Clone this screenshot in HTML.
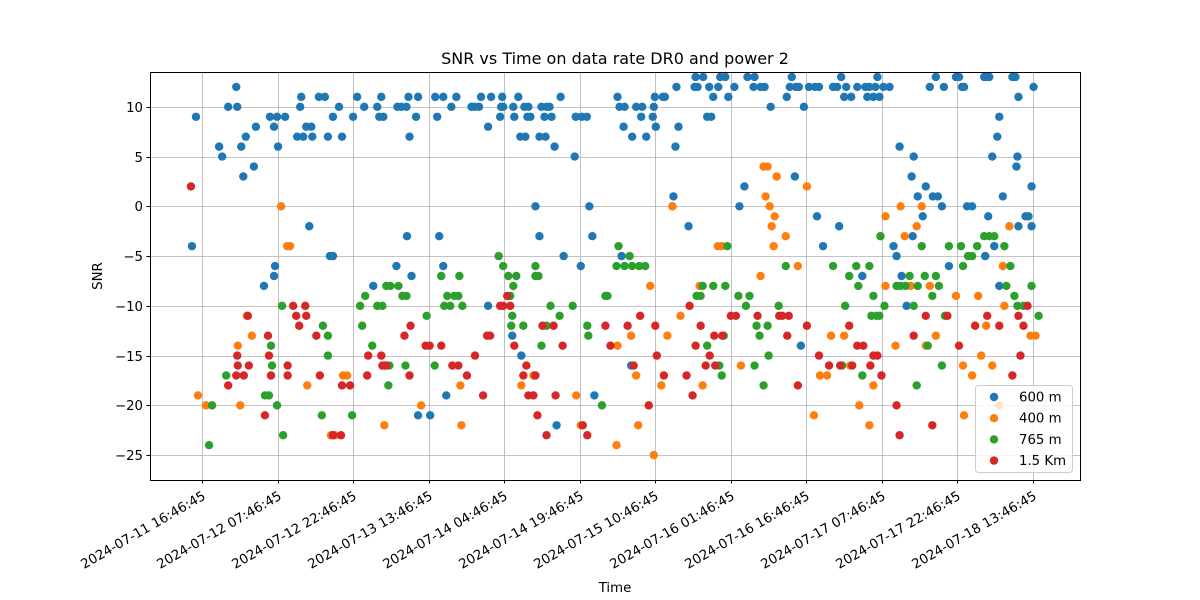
<!DOCTYPE html>
<html><head><meta charset="utf-8"><style>
body{margin:0;background:#fff;}
svg{display:block;font-family:"DejaVu Sans","Liberation Sans",sans-serif;}
</style></head><body>
<svg id="chart" width="1200" height="600" viewBox="0 0 1200 600">
<rect x="0" y="0" width="1200" height="600" fill="#fff"/>
<g id="grid"></g>
<g id="marks"></g>
<rect x="150.5" y="72.5" width="930" height="408" fill="none" stroke="#000" stroke-width="1"/>
<g id="axes"></g>
<text x="615" y="64" font-size="16" text-anchor="middle">SNR vs Time on data rate DR0 and power 2</text>
<text x="615" y="592" font-size="13.3" text-anchor="middle">Time</text>
<text x="102" y="276" font-size="13.3" text-anchor="middle" transform="rotate(-90 102 276)">SNR</text>
<g id="legend"></g>
</svg>
<script>
// hours since 2024-07-11 16:46:45, SNR values
const xTickLabels=["2024-07-11 16:46:45","2024-07-12 07:46:45","2024-07-12 22:46:45","2024-07-13 13:46:45","2024-07-14 04:46:45","2024-07-14 19:46:45","2024-07-15 10:46:45","2024-07-16 01:46:45","2024-07-16 16:46:45","2024-07-17 07:46:45","2024-07-17 22:46:45","2024-07-18 13:46:45"];
const xTickHours=[0,15,30,45,60,75,90,105,120,135,150,165];
const yTicks=[-25,-20,-15,-10,-5,0,5,10];
const seriesNames=["600 m","400 m","765 m","1.5 Km"];
const seriesColors=["#1f77b4","#ff7f0e","#2ca02c","#d62728"];
const s600T=[-2,-1.2,3.4,4,5.2,6.8,7,7.8,8.2,8.7,10.3,10.7,12.3,13.5,14.3,14.3,14.5,14.9,15.1,16.5,18.9,19.5,19.7,20.1,20.7,21.3,21.7,21.9,23.2,24.4,25,25.4,26,26,27.2,27.8,30,30.8,32.2,34,34.8,35.2,35.6,36,38.6,38.8,39.6,40.6,40.7,41,41.2,41.6,42.5,42.9,42.9,45.3,46.3,46.7,47.1,47.9,47.9,48.5,49.5,50.5,53.5,54.1,55,55.4,56.8,56.8,57.4,59.2,59.4,59.6,59.8,61.6,61.8,62,62.8,63.2,63.4,64,64.2,64.6,64.8,65.2,66.2,67,67,67.4,68,68.2,68.4,69,69.4,70,70.4,71.2,71.8,74,74.2,75.2,75.4,76.4,76.9,77.5,77.9,82.5,82.9,83.3,83.7,83.9,85.2,85.4,86.2,87.2,87.4,88.2,89.5,89.7,89.9,90.1,91.5,91.9,93.4,93.6,94,94.2,94.6,96.6,97.8,98,98.4,99.5,100.3,100.7,101.1,101.5,102.5,102.9,103.9,104.5,105.7,106.7,107.7,108.3,109.5,109.7,110.9,111.7,112.9,116.1,116.7,117.1,117.7,117.9,118.5,118.9,119.5,120.5,121.7,122.1,122.5,123.3,125.3,126.1,126.5,126.9,127.5,127.9,128.9,130.1,131.1,131.7,132.1,132.5,133.3,133.7,134.1,134.5,135.3,136.5,137.3,137.9,138.5,138.9,139.9,140.9,141.1,141.3,142.1,143.1,143.7,144.5,145.1,145.7,146.1,146.9,147.3,148.3,149.7,150.3,150.9,151.3,151.9,152.9,155.3,155.5,155.7,156.1,156.3,156.9,157.3,157.9,158.3,158.3,159,160.9,161.5,161.7,161.9,162.1,162.1,163.5,164.1,164.7,164.7,165.1];
const s600V=[-4,9,6,5,10,12,10,6,3,7,4,8,-8,9,8,-7,-6,9,6,9,7,10,11,7,8,-2,8,7,11,11,7,-5,-5,9,10,7,9,11,10,-8,10,9,11,9,-6,10,10,10,-3,11,7,-7,9,11,-21,-21,11,9,-3,11,-6,-19,10,11,10,10,10,11,8,-10,11,9,10,11,10,-13,10,9,11,7,-15,10,7,9,10,9,0,-3,7,10,9,7,10,10,9,6,-22,11,-5,5,9,-6,9,9,0,-3,-19,11,10,-5,8,10,-16,7,10,9,10,7,9,10,11,8,11,11,0,1,6,12,8,-2,12,13,12,13,9,12,9,11,12,13,13,11,12,0,2,13,12,13,12,12,10,11,12,13,3,12,12,-14,10,12,12,-1,12,-4,12,12,-2,13,11,12,11,12,-7,12,11,12,11,12,13,11,12,12,-4,-5,6,-7,-10,3,-3,5,1,-1,2,12,1,13,1,0,12,-6,13,13,12,12,0,0,13,-5,13,-1,13,5,-4,7,9,-8,1,13,13,4,5,11,-2,-1,-1,2,-2,12];
const s400T=[-0.8,0.8,7.1,7.6,8.9,9.9,15.7,16.9,17.5,20.9,25.6,26.4,28,28.8,36.2,43.5,51.3,51.5,63.4,65.8,74.3,75.2,82.3,82.5,85.2,86.2,86.6,89,89.7,91.2,92.4,93.4,95,98.8,99.4,102.4,103.2,107,110.9,111.5,111.9,112.3,112.7,113.1,113.5,113.7,114.1,115.9,118.3,120.1,121.5,122.7,124.1,124.9,127.5,128.7,130.5,132.5,133.3,134.7,135.7,135.7,137.7,138.7,139.5,140.7,141.9,142.9,143.7,144.5,145.7,149.7,151.1,151.3,152.9,154.1,154.7,155.7,156.9,158.3,159,159.3,160.3,164.5,165.5];
const s400V=[-19,-20,-14,-20,-11,-13,0,-4,-4,-18,-23,-23,-17,-17,-22,-20,-18,-22,-18,-17,-19,-22,-24,-14,-13,-17,-22,-8,-25,-18,-13,0,-11,-8,-18,-4,-4,-16,-7,4,1,4,0,-2,-4,-1,3,-3,-6,2,-21,-17,-17,-13,-13,-16,-20,-22,-18,-3,-1,-8,-14,0,-3,-8,-2,0,-14,-8,-13,-9,-16,-21,-17,-9,-15,-12,-16,-20,-6,-10,-2,-13,-13];
const s765T=[1.4,2,4.8,12.5,13.3,13.7,13.9,14.9,15.9,16.1,24,23.8,25,25,29.8,31.4,31.8,32.4,33.8,34.8,35.8,36.6,37,37.2,37.4,39,39.8,40.6,40.4,44.6,46.2,47.5,48.1,48.7,49.3,50.1,50.9,51.1,51.7,58.9,59.8,60.8,61.2,61.4,61.6,61.8,62.4,63.8,66.2,66.2,66.8,67.4,68.4,69.2,71,73.6,76.5,76.7,79.4,80.1,80.5,82.3,82.7,83.9,84.9,85.4,86.8,88,98.2,99,100.3,99.4,101.5,102.7,103.2,103.6,103.9,104.3,106.5,108,108.7,109.7,110.1,110.7,111.5,112.3,112.5,114.5,115.9,125.3,127.1,127.7,128.5,129.9,130.3,131.1,132.5,132.9,133.3,133.9,134.5,134.7,135.5,137.9,138.7,139.7,140.5,141.3,141.9,142.1,142.9,143.5,144.1,145,145.7,146.3,146.9,147.5,148.3,150.7,151.1,152.1,152.9,153.9,155.3,156.3,157.3,159.3,159.7,160.5,161.3,161.9,163.1,164.7,166.1];
const s765V=[-24,-20,-17,-19,-19,-14,-16,-20,-10,-23,-12,-21,-15,-13,-21,-10,-12,-9,-14,-10,-10,-8,-18,-16,-8,-8,-9,-9,-16,-11,-16,-7,-10,-9,-10,-9,-9,-7,-10,-5,-6,-7,-9,-12,-11,-8,-7,-12,-7,-6,-7,-14,-12,-10,-11,-10,-12,-13,-20,-9,-9,-6,-4,-6,-5,-6,-6,-6,-9,-9,-14,-8,-8,-16,-17,-13,-8,-4,-9,-10,-9,-16,-12,-13,-18,-12,-15,-10,-6,-6,-16,-10,-7,-6,-8,-17,-6,-11,-9,-11,-11,-3,-10,-8,-8,-8,-7,-10,-18,-8,-4,-7,-14,-9,-7,-8,-16,-11,-4,-4,-6,-5,-5,-4,-3,-3,-3,-4,-8,-6,-9,-10,-10,-8,-11];
const s15T=[-2.2,5.2,6.8,7,7.1,8.3,9.1,9.3,12.5,13.1,13.3,13.7,17,17,18.1,18.7,19.3,20.5,20.7,22.7,23.4,26,27.6,27.8,29.4,32.8,33,35.6,35.8,36.2,36.6,40.2,41.4,41.2,44.4,45.2,47.5,49.7,50.9,52.6,54.2,55.8,56.6,57.2,59.2,59.8,60.6,61.2,62,63.8,64.4,64.8,65.8,66.2,66.6,67.6,68.4,69.8,70.2,71.6,75.6,76.5,80.1,81.1,84.5,85.7,87,88.7,90,90.3,91.7,96.2,96.8,97.4,98,99,100,100.8,101.7,101.9,103.3,105,106,110.3,114.6,115.2,116.2,116.5,118.3,120.1,122.5,124.5,126.7,128.5,129.1,130.1,131.3,132.7,133.3,134.1,134.9,137.9,138.5,141.3,143.7,145,148,150.3,153.5,155.9,158.3,160.9,162.1,162.5,163.1,163.9];
const s15V=[2,-18,-17,-15,-16,-17,-11,-16,-21,-13,-15,-17,-17,-16,-10,-11,-12,-10,-11,-13,-17,-23,-23,-18,-18,-17,-15,-15,-16,-16,-16,-13,-12,-17,-14,-14,-14,-16,-16,-17,-15,-19,-13,-13,-10,-10,-9,-10,-14,-17,-16,-19,-19,-17,-21,-12,-23,-12,-19,-14,-22,-23,-12,-14,-12,-16,-11,-20,-12,-15,-17,-17,-10,-19,-14,-12,-16,-15,-13,-16,-13,-11,-11,-11,-11,-11,-13,-11,-18,-12,-15,-16,-16,-12,-16,-14,-14,-16,-15,-15,-17,-20,-23,-13,-11,-22,-11,-14,-12,-11,-12,-17,-11,-15,-12,-10];
const seriesT=[s600T,s400T,s765T,s15T];
const seriesV=[s600V,s400V,s765V,s15V];

const NS="http://www.w3.org/2000/svg";
const L=150,R=1080,T=72,B=480;
const X0=202, PXH=75.55/15;
function xs(h){return X0+h*PXH;}
const YMIN=-27.5,YMAX=13.5;
function ys(v){return B-(v-YMIN)/(YMAX-YMIN)*(B-T);}
function mk(tag,attrs,parent){const e=document.createElementNS(NS,tag);for(const k in attrs)e.setAttribute(k,attrs[k]);parent.appendChild(e);return e;}
const grid=document.getElementById('grid'),axes=document.getElementById('axes'),marks=document.getElementById('marks'),legend=document.getElementById('legend');
xTickHours.forEach((h,i)=>{
  const x=Math.round(xs(h))+0.5;
  const g=mk('line',{x1:x,x2:x,y1:T,y2:B,stroke:'#b0b0b0','stroke-width':0.8},grid);
  
  
  const t=mk('line',{x1:x,x2:x,y1:B,y2:B+3.5,stroke:'#000'},axes);
  
  
  const ax=x+2, ay=B+19;
  const lb=mk('text',{x:ax,y:ay,'font-size':13.3,'text-anchor':'end',transform:`rotate(-30 ${ax} ${ay-4})`},axes);
  lb.textContent=xTickLabels[i];
  
  
});
yTicks.forEach(v=>{
  const y=Math.round(ys(v))+0.5;
  const g=mk('line',{x1:L,x2:R,y1:y,y2:y,stroke:'#b0b0b0','stroke-width':0.8},grid);
  
  
  const t=mk('line',{x1:L-3.5,x2:L,y1:y,y2:y,stroke:'#000'},axes);
  
  
  const lb=mk('text',{x:L-7,y:y+4.5,'font-size':13.3,'text-anchor':'end'},axes);
  lb.textContent=String(v).replace('-','\u2212');
  
  
});
seriesT.forEach((ts,si)=>{
  ts.forEach((h,i)=>{
    const c=mk('circle',{cx:xs(h),cy:ys(seriesV[si][i]),r:4.2,fill:seriesColors[si]},marks);
    
    
  });
});
const lb=mk('rect',{x:975.5,y:385.5,width:97,height:87,rx:3,fill:'#fff','fill-opacity':0.8,stroke:'#ccc'},legend);


seriesNames.forEach((n,i)=>{
  const y=397+i*21.2;
  const c=mk('circle',{cx:994,cy:y,r:4.2,fill:seriesColors[i]},legend);
  
  
  const t=mk('text',{x:1019,y:y+4.5,'font-size':13.3},legend);
  t.textContent=n;
  
  
});
</script>
</body></html>
